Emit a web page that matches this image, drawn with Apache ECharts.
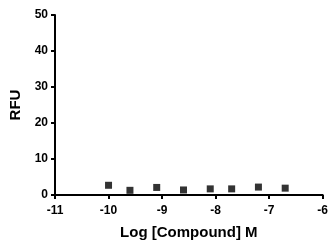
<!DOCTYPE html>
<html>
<head>
<meta charset="utf-8">
<script src="https://cdn.jsdelivr.net/npm/echarts@6/dist/echarts.min.js"></script>
<style>
html, body { margin: 0; padding: 0; background: #fff; }
#chart { width: 331px; height: 245px; }
</style>
</head>
<body>
<div id="chart"></div>
<script>
var logConc = [-10, -9.6, -9.1, -8.6, -8.1, -7.7, -7.2, -6.7];
var rfu = [2.7, 1.3, 2.1, 1.4, 1.7, 1.7, 2.2, 1.9];

var chart = echarts.init(document.getElementById('chart'));
var points = [];
for (var i = 0; i < logConc.length; i++) {
    points.push([logConc[i], rfu[i]]);
}
var font = 'Liberation Sans, Arial, sans-serif';
var option = {
    animation: false,
    grid: { left: 55, right: 1, top: 15, bottom: 49 },
    xAxis: {
        type: 'value',
        min: -11, max: -6, interval: 1,
        name: 'Log [Compound] M',
        nameLocation: 'middle',
        nameGap: 30,
        nameTextStyle: { color: '#000', fontWeight: 'bold', fontSize: 15, fontFamily: font },
        axisLine: { onZero: false, lineStyle: { color: '#000', width: 2 } },
        axisTick: { show: true, length: 4, lineStyle: { color: '#000', width: 2 } },
        axisLabel: { color: '#000', fontWeight: 'bold', fontSize: 12, fontFamily: font, margin: 10 },
        splitLine: { show: false }
    },
    yAxis: {
        type: 'value',
        min: 0, max: 50, interval: 10,
        name: 'RFU',
        nameLocation: 'middle',
        nameGap: 27,
        nameTextStyle: { color: '#000', fontWeight: 'bold', fontSize: 15, fontFamily: font },
        axisLine: { show: true, onZero: false, lineStyle: { color: '#000', width: 2 } },
        axisTick: { show: true, length: 4, lineStyle: { color: '#000', width: 2 } },
        axisLabel: { color: '#000', fontWeight: 'bold', fontSize: 12, fontFamily: font, margin: 7 },
        splitLine: { show: false }
    },
    series: [{
        type: 'scatter',
        data: points,
        symbol: 'rect',
        symbolSize: 7,
        itemStyle: { color: '#000' }
    }]
};
chart.setOption(option);
</script>
</body>
</html>
